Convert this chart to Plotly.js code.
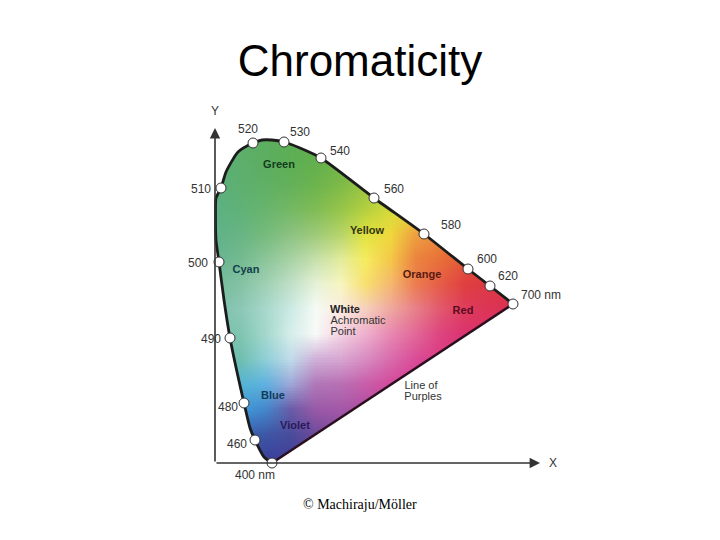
<!DOCTYPE html>
<html><head><meta charset="utf-8">
<script src="https://cdn.plot.ly/plotly-3.0.1.min.js"></script>
<style>html,body{margin:0;padding:0;background:#fff}#c{width:720px;height:540px}</style>
</head><body><div id="c"></div>
<script>
// Diagram units: origin where the X and Y axes cross
const locusX=[57,49,40,35,29,22,15,9,4,1,0.5,1,6,11,23,38,47,57,69,85,106,159,209,253,275,298];
const locusY=[0,6,23,35,60,91,125,163,201,223,248,265,275,291,311,320,323,323,321,315,305,265,229,194,177,159];
const wavelengthLabels=['400 nm','460','480','490','500','510','520','530','540','560','580','600','620','700 nm'];
const wavelengthX=[57,40,29,15,4,6,38,69,106,159,209,253,275,298];
const wavelengthY=[0,23,60,125,201,275,320,321,305,265,229,194,177,159];
const wavelengthLabelX=[40,22,13,-4,-17,-14,33,85,125,179,236,272,293,326];
const wavelengthLabelY=[-13,18,55,123,199,273,333,330,311,273,237,203,186,167];
const regionNames=['Green','Yellow','Cyan','Orange','Red','White','Blue','Violet'];
const regionX=[64,152,31,207,248,130,58,80];
const regionY=[298,232,193,188,152,153,67,37];
const regionColors=['#143c1e','#34340e','#12404a','#5a1a10','#5a0a20','#222222','#123a5a','#2a1a5a'];
const noteLines=['Achromatic','Point','Line of','Purples'];
const noteX=[143,128,206,208];
const noteY=[142,131,77,66];
const colorGrid=[
'5BAF78 5DAF6C 5CAE60 5DAE55 62B04E 6EB449 85BC45 A5C83F C8D43E E0DD3C E8C83C E8A03C E8703C',
'5BAF78 5DAF6C 5CAE60 5DAE55 62B04E 6EB449 85BC45 A5C83F C8D43E E0DD3C E8C83C E8A03C E8703C',
'5CB07C 5EB070 60B065 64B15A 6CB44E 7EBA48 98C444 B8D03F D8DC3C EAD93C E8C03C E8903C E8603C',
'5DB182 60B278 68B56E 74B864 80BC55 96C54A B4D03F D4DC3A F0E03A F0B040 E8883C E8683C E8503C',
'60B28A 68B584 76BB7C 8CC282 9ECA78 B6D46A E0E440 F0D83C EEA040 EC8A3C E8703C E45A3C E04A3C',
'68B692 74BA90 8CC69A A8D2A4 C6E0AC E2EC9C F6EC60 F4C848 EC8440 E87038 E45838 E04A3A DE403C',
'74BC9C 84C2A4 A0D0B4 C0E0C8 E6F2D8 F8F6C0 F8E070 F4B870 EC7C50 E65C48 E03E40 DC3A44 DC3648',
'7CC2AC 8CC8B6 A8D8CC CCEAE4 F6FBF6 FBEBE0 F6D0C0 EFA8A0 E8808A E2586E DE3C5C DC3456 DC3050',
'78C2AC 80C6B0 A4D8CC D6EEEA F8FAF8 F5D2E2 EEB0CE E888B2 E26898 DE4480 DC3270 DC3068 DC3060',
'6CBEB4 70BFB0 90CFD8 C0DCEA D0B0D8 D8A6D2 D88CC2 D86CAC DA4C98 DC3A84 DC3278 DC3070 DC3068',
'50B2D4 55B4D4 5FB2E0 9EA8D8 B078B8 B870B4 C85EAA D44A9C DC3A90 DC3684 DC3278 DC3070 DC3068',
'3E9AD8 3E9AD8 4488CC 6A5CA8 9A5AA8 A458A8 B04CA0 C04498 D03C90 DC3684 DC3278 DC3070 DC3068',
'3A6CBC 3A60B4 3D58A6 4A4C9C 6E4A9A 8848A0 A04498 B04094 C83C90 DC3684 DC3278 DC3070 DC3068',
'3A48A0 3A44A0 3A409A 40409A 5A4098 7C4098 9C4094 B04094 C83C90 DC3684 DC3278 DC3070 DC3068'
];
const gridStep=25, gridTop=328;

const rows=colorGrid.map(r=>r.split(' '));
const cv=document.createElement('canvas');
cv.width=rows[0].length; cv.height=rows.length;
const g=cv.getContext('2d');
rows.forEach((r,j)=>r.forEach((hex,i)=>{g.fillStyle='#'+hex;g.fillRect(i,rows.length-1-j,1,1);}));

const pad=4;
const left=-gridStep/2-pad, right=gridStep*(rows[0].length-0.5)+pad;
const top_=gridTop+gridStep/2+pad, bottom=gridTop-gridStep*(rows.length-0.5)-pad;
const maskX=[left,right,right,left,left,left].concat(locusX,[locusX[0],left]);
const maskY=[bottom,bottom,top_,top_,bottom,0].concat(locusY,[locusY[0],0]);

const font='"Liberation Sans",Arial,sans-serif';
const traces=[
 {type:'image',source:cv.toDataURL('image/png'),x0:0,y0:gridTop-gridStep*(rows.length-1),dx:gridStep,dy:gridStep,zsmooth:'fast',hoverinfo:'skip'},
 {type:'scatter',mode:'lines',x:maskX,y:maskY,fill:'toself',fillcolor:'#ffffff',line:{width:0,color:'#ffffff'},hoverinfo:'skip'},
 {type:'scatter',mode:'lines',x:[locusX[locusX.length-1],locusX[0]],y:[locusY[locusY.length-1],locusY[0]],line:{color:'#2a0f1e',width:2.5}},
 {type:'scatter',mode:'lines',x:locusX,y:locusY,line:{color:'#1c1c1c',width:2.8,shape:'spline',smoothing:0.6}},
 {type:'scatter',mode:'markers',x:wavelengthX,y:wavelengthY,marker:{size:10,color:'#ffffff',line:{color:'#333333',width:1}}},
 {type:'scatter',mode:'text',x:wavelengthLabelX,y:wavelengthLabelY,text:wavelengthLabels,textposition:'middle center',textfont:{family:font,size:12,color:'#333333'}},
 {type:'scatter',mode:'text',x:regionX,y:regionY,text:regionNames,textposition:'middle center',textfont:{family:font,size:11,color:regionColors,weight:700}},
 {type:'scatter',mode:'text',x:noteX,y:noteY,text:noteLines,textposition:'middle center',textfont:{family:font,size:11,color:'#333333'}},
 {type:'scatter',mode:'text',x:[0,338],y:[351,-1],text:['Y','X'],textposition:'middle center',textfont:{family:font,size:12,color:'#333333'}}
];
const layout={
 width:720,height:540,showlegend:false,paper_bgcolor:'#ffffff',plot_bgcolor:'#ffffff',
 margin:{l:0,r:0,t:0,b:0},
 title:{text:'Chromaticity',font:{family:font,size:44,color:'#000000'},x:0.5,xanchor:'center',xref:'paper',y:0.887,yanchor:'middle',yref:'container'},
 xaxis:{range:[-215,505],visible:false,fixedrange:true},
 yaxis:{range:[-77,463],visible:false,fixedrange:true},
 annotations:[
  {x:325,y:0,ax:0,ay:0,axref:'x',ayref:'y',xref:'x',yref:'y',text:'',showarrow:true,arrowhead:2,arrowsize:1.3,arrowwidth:1.6,arrowcolor:'#333333'},
  {x:0,y:335,ax:0,ay:0,axref:'x',ayref:'y',xref:'x',yref:'y',text:'',showarrow:true,arrowhead:2,arrowsize:1.3,arrowwidth:1.6,arrowcolor:'#333333'},
  {xref:'paper',yref:'paper',x:0.5,y:1-504/540,xanchor:'center',yanchor:'middle',text:'© Machiraju/Möller',showarrow:false,font:{family:'"Liberation Serif","Times New Roman",serif',size:14,color:'#000000'}}
 ]
};
Plotly.newPlot('c',traces,layout,{displayModeBar:false,staticPlot:true});
</script></body></html>
